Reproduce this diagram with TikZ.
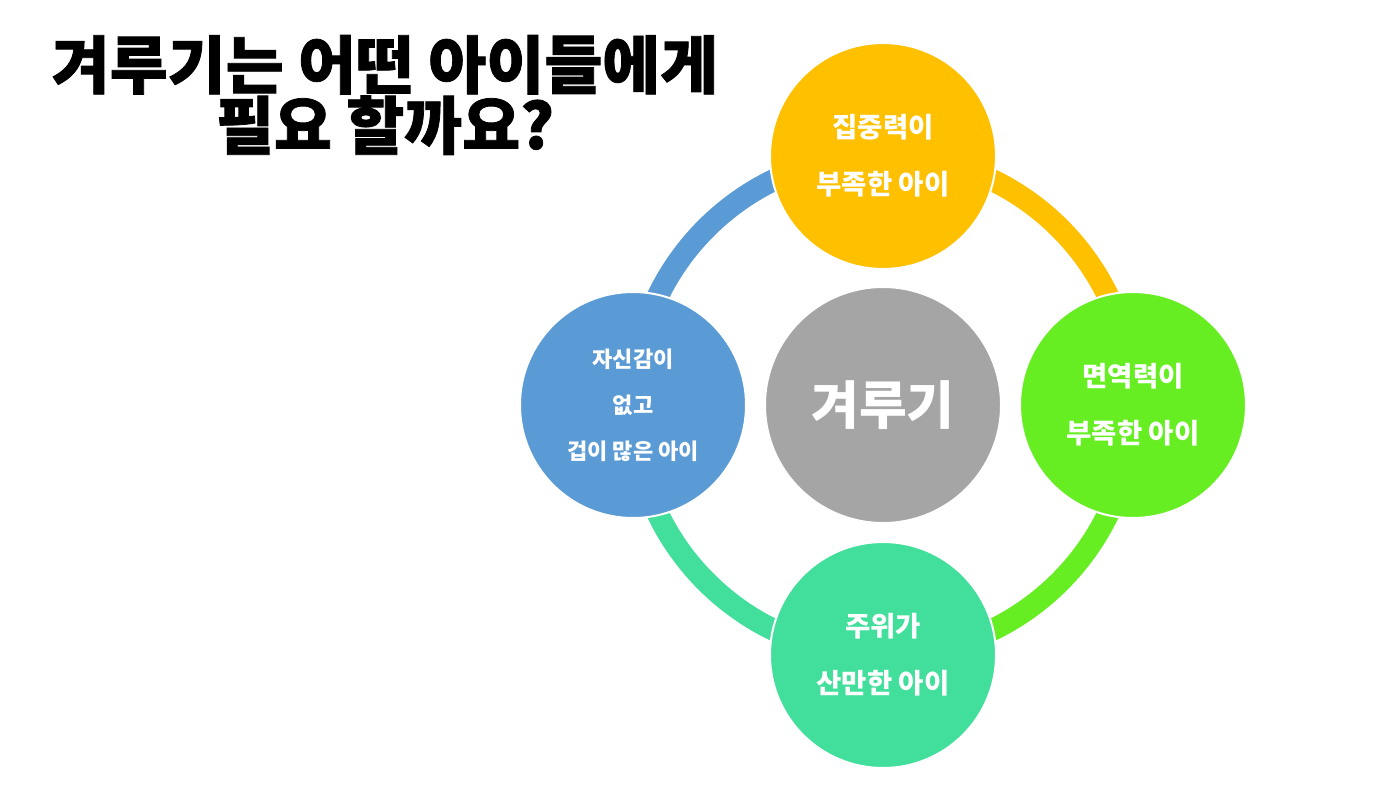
\documentclass[tikz,border=0pt]{standalone}
\usepackage{fontspec}
\newfontfamily\titlefont[FakeBold=1.2]{Noto Sans CJK KR}
\newfontfamily\kfont{Noto Sans CJK KR}
\definecolor{cyellow}{HTML}{FFC000}
\definecolor{cgreen}{HTML}{66EE22}
\definecolor{cteal}{HTML}{41DF9B}
\definecolor{cblue}{HTML}{5B9BD5}
\definecolor{cgray}{HTML}{A5A5A5}
\tikzset{
  x=1pt, y=-1pt,
  ring/.style={line width=22pt, line cap=butt},
  bubble/.style={circle, draw=white, line width=2pt, minimum size=226pt, inner sep=0pt,
    text=white, align=center, font=\kfont\bfseries\fontsize{27.5}{57}\selectfont},
}
\begin{document}
\begin{tikzpicture}
\useasboundingbox (0,0) rectangle (1400,788);
\fill[white] (0,0) rectangle (1400,788);
% title
\node[font=\titlefont\bfseries\fontsize{63}{58}\selectfont, align=center, anchor=center] (title) at (385,95)
  {겨루기는 어떤 아이들에게\\필요 할까요?};
\coordinate (c) at (883,405);
% ring (y axis points down: -90 is the top)
\draw[ring, cyellow] (c) ++(-90:250) arc[start angle=-90, end angle=0, radius=250];
\draw[ring, cgreen] (c) ++(0:250) arc[start angle=0, end angle=90, radius=250];
\draw[ring, cteal] (c) ++(90:250) arc[start angle=90, end angle=180, radius=250];
\draw[ring, cblue] (c) ++(180:250) arc[start angle=180, end angle=270, radius=250];
% circles
\node[bubble, fill=cgray, minimum size=236pt, font=\kfont\bfseries\fontsize{52}{54}\selectfont] (center) at (c) {겨루기};
\node[bubble, fill=cyellow] (top) at (883,156) {집중력이\\부족한 아이};
\node[bubble, fill=cgreen] (right) at (1133,405) {면역력이\\부족한 아이};
\node[bubble, fill=cteal] (bottom) at (883,655) {주위가\\산만한 아이};
\node[bubble, fill=cblue, font=\kfont\bfseries\fontsize{22}{46}\selectfont] (left) at (633,405) {자신감이\\없고\\겁이 많은 아이};
\end{tikzpicture}
\end{document}
